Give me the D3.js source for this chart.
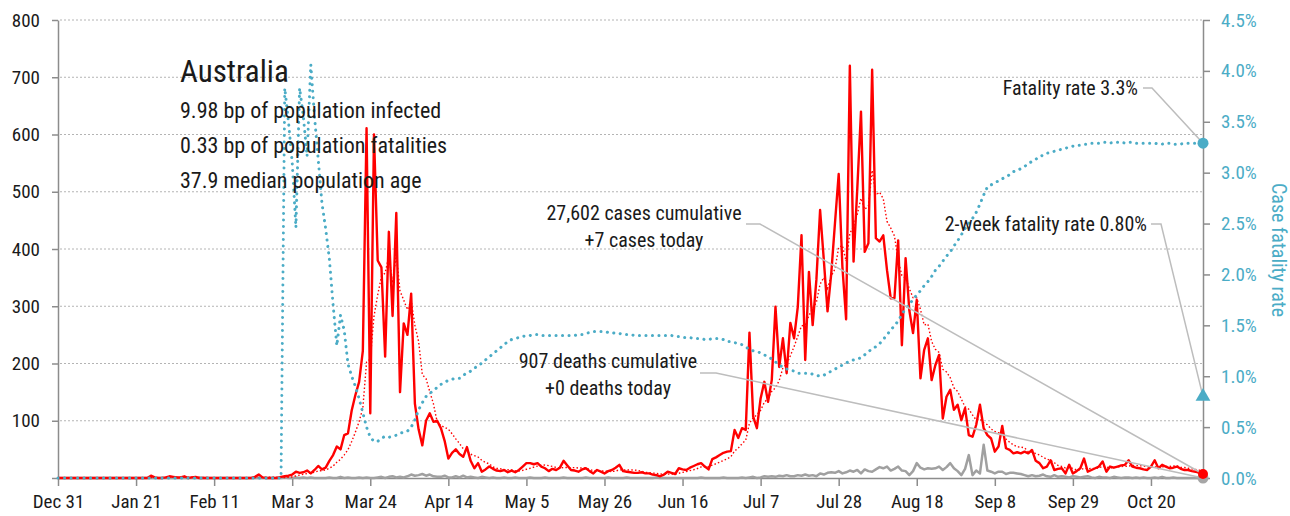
<!DOCTYPE html>
<html>
<head>
<meta charset="utf-8">
<script src="https://cdn.jsdelivr.net/npm/d3@7"></script>
<style>
  body { margin: 0; background: #fff; }
  text { font-family: "Liberation Sans Narrow", "Roboto Condensed", "DejaVu Sans Condensed", Roboto, sans-serif; font-stretch: condensed; }
</style>
</head>
<body>
<svg id="chart" width="1290" height="516"></svg>
<script>
// daily values from Dec 31 2019 to Nov 3 2020
const startDay = Date.UTC(2019, 11, 31);

const cases = [
  0,0,0,0,0,0,0,0,0,0, 0,0,0,0,0,0,0,0,0,0,
  0,0,0,0,0,4,1,0,0,1, 3,2,1,1,3,0,1,2,0,0,
  0,0,0,0,0,0,0,0,0,0, 0,0,0,2,6,1,0,0,0,0,
  2,3,4,6,11,9,10,13,8,14, 21,15,18,30,40,55,50,75,78,118,
  145,168,222,611,113,600,380,368,212,430, 283,463,150,270,250,322,130,85,57,100,
  113,98,100,87,65,34,44,50,42,37, 54,30,17,26,11,15,20,16,13,12,
  14,10,13,10,14,20,26,26,24,26, 20,17,12,16,14,18,30,22,14,13,
  11,15,17,12,8,14,11,8,12,14, 18,23,12,11,10,9,9,10,8,8,
  6,5,3,6,11,9,7,17,15,14, 18,21,24,26,20,15,33,36,40,44,
  46,47,84,70,87,84,254,107,87,139, 168,133,171,299,194,244,183,271,244,299,
  424,206,360,267,346,468,381,291,357,445, 531,369,277,720,378,505,640,395,410,713,
  419,413,424,363,314,314,415,232,384,293, 253,311,174,224,244,171,197,215,104,142,
  154,119,128,101,122,75,72,93,128,87, 75,69,46,55,91,52,49,43,45,43,
  46,43,49,30,26,17,20,31,14,16, 17,8,23,8,12,17,34,11,14,17,
  20,29,11,20,18,20,22,23,31,20, 18,17,15,14,20,31,17,23,20,17,
  18,20,16,14,14,12,11,9,7
];

const deaths = [
  0,0,0,0,0,0,0,0,0,0, 0,0,0,0,0,0,0,0,0,0,
  0,0,0,0,0,0,0,0,0,0, 0,0,0,0,0,0,0,0,0,0,
  0,0,0,0,0,0,0,0,0,0, 0,0,0,0,0,0,0,0,0,0,
  0,1,0,0,1,0,1,0,1,0, 0,0,0,1,0,0,2,0,1,0,
  0,1,0,1,0,0,1,2,0,2, 3,1,2,1,3,6,4,5,7,4,
  6,3,2,2,4,1,1,3,1,4, 1,2,1,0,2,1,0,1,0,0,
  1,0,0,1,0,0,0,1,0,0, 0,1,0,0,0,0,1,0,0,0,
  0,0,1,0,0,0,0,0,1,0, 0,0,0,1,0,0,0,0,0,0,
  0,1,0,0,0,0,0,0,0,0, 0,0,0,1,0,0,0,0,0,1,
  0,0,0,0,1,0,1,2,0,1, 3,2,3,2,4,3,5,3,3,5,
  4,6,4,5,3,8,6,9,10,9, 12,8,10,13,11,14,8,15,12,11,
  15,19,17,20,13,16,20,13,12,5, 12,26,18,15,17,16,17,20,14,19,
  26,17,12,5,16,40,5,13,8,58, 13,11,8,11,11,7,9,9,8,7,
  5,3,5,3,4,6,3,2,5,2, 3,2,1,3,2,1,2,3,1,0,
  2,1,1,0,2,1,0,1,1,0, 1,0,1,0,0,1,0,2,0,0,
  1,0,0,0,0,0,0,0,0
];

// case fatality rate, percent
const fatalityRate = [
  0,0,0,0,0,0,0,0,0,0, 0,0,0,0,0,0,0,0,0,0,
  0,0,0,0,0,0,0,0,0,0, 0,0,0,0,0,0,0,0,0,0,
  0,0,0,0,0,0,0,0,0,0, 0,0,0,0,0,0,0,0,0,0,
  0,3.83,3.5,3.1,2.46,3.83,3.55,3.16,4.06,3.55, 3.13,2.7,2.45,2.15,1.7,1.3,1.6,1.45,1.12,1.0,
  0.9,0.78,0.64,0.5,0.4,0.36,0.36,0.39,0.41,0.40, 0.41,0.42,0.44,0.45,0.46,0.50,0.57,0.67,0.74,0.80,
  0.83,0.86,0.89,0.92,0.94,0.96,0.97,0.98,0.98,1.01, 1.03,1.05,1.08,1.10,1.13,1.16,1.19,1.22,1.25,1.28,
  1.31,1.34,1.36,1.37,1.38,1.39,1.40,1.40,1.41,1.41, 1.40,1.40,1.40,1.40,1.40,1.40,1.40,1.40,1.40,1.40,
  1.41,1.41,1.42,1.43,1.44,1.44,1.44,1.44,1.43,1.43, 1.42,1.42,1.41,1.41,1.41,1.40,1.40,1.40,1.40,1.40,
  1.40,1.40,1.40,1.40,1.40,1.40,1.39,1.39,1.38,1.38, 1.38,1.37,1.37,1.37,1.36,1.36,1.37,1.37,1.37,1.36,
  1.34,1.34,1.33,1.32,1.31,1.29,1.26,1.25,1.24,1.23, 1.21,1.19,1.17,1.14,1.11,1.09,1.07,1.06,1.05,1.03,
  1.03,1.03,1.03,1.02,1.01,1.00,1.01,1.03,1.05,1.07, 1.09,1.11,1.13,1.15,1.16,1.17,1.18,1.21,1.24,1.27,
  1.29,1.32,1.36,1.41,1.45,1.50,1.54,1.61,1.66,1.71, 1.75,1.80,1.84,1.89,1.93,1.98,2.04,2.08,2.13,2.18,
  2.22,2.28,2.33,2.39,2.45,2.50,2.55,2.61,2.69,2.78, 2.86,2.88,2.90,2.92,2.94,2.96,2.98,3.01,3.02,3.04,
  3.06,3.09,3.11,3.13,3.16,3.17,3.19,3.20,3.21,3.22, 3.23,3.24,3.25,3.26,3.27,3.27,3.28,3.28,3.29,3.29,
  3.29,3.30,3.30,3.29,3.30,3.30,3.30,3.29,3.30,3.30, 3.29,3.29,3.29,3.29,3.29,3.29,3.28,3.28,3.29,3.29,
  3.28,3.28,3.28,3.29,3.29,3.29,3.29,3.29,3.29
];

const twoWeekRate = 0.80;

const tickLabels = ["Dec 31", "Jan 21", "Feb 11", "Mar 3", "Mar 24", "Apr 14", "May 5",
  "May 26", "Jun 16", "Jul 7", "Jul 28", "Aug 18", "Sep 8", "Sep 29", "Oct 20"];
const leftTicks = [0, 100, 200, 300, 400, 500, 600, 700, 800];
const rightTicks = [0, 0.5, 1, 1.5, 2, 2.5, 3, 3.5, 4, 4.5];

const infoLines = ["9.98 bp of population infected", "0.33 bp of population fatalities", "37.9 median population age"];

const dayMs = 864e5;
const dates = cases.map((_, i) => new Date(startDay + i * dayMs));
const last = cases.length - 1;

// trailing 7 day average of the daily cases
const weekAvg = cases.map((_, i) => d3.mean(cases.slice(Math.max(0, i - 6), i + 1)));

const svg = d3.select("#chart");
const plotLeft = 58, plotRight = 1203, plotTop = 20, plotBottom = 478;

const x = d3.scaleUtc().domain([dates[0], dates[last]]).range([plotLeft, plotRight]);
const yL = d3.scaleLinear().domain([0, 800]).range([plotBottom, plotTop]);
const yR = d3.scaleLinear().domain([0, 4.5]).range([plotBottom, plotTop]);

const blue = "#4bacc6", red = "#ff0000", grey = "#a0a0a0", axisGrey = "#8c8c8c";

// gridlines
svg.append("g").selectAll("line").data(leftTicks.slice(1)).join("line")
  .attr("x1", plotLeft + 2).attr("x2", plotRight)
  .attr("y1", d => yL(d)).attr("y2", d => yL(d))
  .attr("stroke", "#b4b4b4").attr("stroke-width", 1).attr("stroke-dasharray", "2 2");

function styleAxis(g, color) {
  g.select(".domain").attr("stroke", axisGrey).attr("stroke-width", 1.5);
  g.selectAll(".tick line").attr("stroke", axisGrey).attr("stroke-width", 1.5);
  g.selectAll(".tick text").attr("fill", color).style("font-size", "19px");
}

svg.append("g").attr("transform", `translate(${plotLeft},0)`)
  .call(d3.axisLeft(yL).tickValues(leftTicks).tickFormat(d => d ? d : "").tickSize(6).tickSizeOuter(0).tickPadding(12))
  .call(g => styleAxis(g, "#1a1a1a"));

svg.append("g").attr("transform", `translate(${plotRight},0)`)
  .call(d3.axisRight(yR).tickValues(rightTicks).tickFormat(d => d.toFixed(1) + "%").tickSize(7).tickSizeOuter(0).tickPadding(11))
  .call(g => styleAxis(g, blue));

svg.append("g").attr("transform", `translate(0,${plotBottom})`)
  .call(d3.axisBottom(x)
    .tickValues(tickLabels.map((_, i) => new Date(startDay + i * 21 * dayMs)))
    .tickFormat((d, i) => tickLabels[i]).tickSize(8).tickSizeOuter(0).tickPadding(9))
  .call(g => styleAxis(g, "#1a1a1a"));

svg.append("text")
  .attr("transform", "translate(1272,250) rotate(90)")
  .attr("text-anchor", "middle").attr("fill", blue).style("font-size", "20px")
  .text("Case fatality rate");

// series
const lineL = arr => d3.line().x((d, i) => x(dates[i])).y(d => yL(d))(arr);

svg.append("path").attr("d", lineL(deaths))
  .attr("fill", "none").attr("stroke", grey).attr("stroke-width", 2.5).attr("stroke-linejoin", "round");

svg.append("path").attr("d", lineL(cases))
  .attr("fill", "none").attr("stroke", red).attr("stroke-width", 2.4).attr("stroke-linejoin", "round");

svg.append("path").attr("d", lineL(weekAvg))
  .attr("fill", "none").attr("stroke", red).attr("stroke-width", 1.4).attr("stroke-dasharray", "1.5 2.2");

svg.append("path")
  .attr("d", d3.line().x((d, i) => x(dates[i])).y(d => yR(d))(fatalityRate))
  .attr("fill", "none").attr("stroke", blue).attr("stroke-width", 3)
  .attr("stroke-linecap", "round").attr("stroke-dasharray", "0.1 6.4");

// annotation text
const title = svg.append("g").attr("fill", "#1a1a1a");
title.append("text").attr("x", 180).attr("y", 82).style("font-size", "31px").text("Australia");
title.selectAll("text.info").data(infoLines).join("text").attr("class", "info")
  .attr("x", 180).attr("y", (d, i) => 118 + i * 35).style("font-size", "22px")
  .text(d => d);

const endX = x(dates[last]);
const notes = [
  { lines: ["Fatality rate 3.3%"], tx: 1138, ty: 95, anchor: "end",
    path: [[1143, 88], [1152, 88], [endX, yR(fatalityRate[last])]] },
  { lines: ["27,602 cases cumulative", "+7 cases today"], tx: 644, ty: 220, anchor: "middle",
    path: [[746, 224], [760, 224], [endX, yL(cases[last])]] },
  { lines: ["2-week fatality rate 0.80%"], tx: 1147, ty: 231, anchor: "end",
    path: [[1151, 224], [1161, 224], [endX, yR(twoWeekRate)]] },
  { lines: ["907 deaths cumulative", "+0 deaths today"], tx: 608, ty: 368, anchor: "middle",
    path: [[700, 373], [716, 373], [endX, yL(deaths[last])]] }
];

svg.append("g").selectAll("path").data(notes).join("path")
  .attr("d", d => d3.line()(d.path))
  .attr("fill", "none").attr("stroke", "#bdbdbd").attr("stroke-width", 1.5);

notes.forEach(n => {
  n.lines.forEach((t, i) => {
    svg.append("text").attr("x", n.tx).attr("y", n.ty + i * 27)
      .attr("text-anchor", n.anchor).attr("fill", "#1a1a1a").style("font-size", "20px").text(t);
  });
});

// end markers
svg.append("circle").attr("cx", endX).attr("cy", yL(deaths[last])).attr("r", 5.5).attr("fill", "#a6a6a6");
svg.append("circle").attr("cx", endX).attr("cy", yL(cases[last])).attr("r", 5).attr("fill", red);
svg.append("circle").attr("cx", endX).attr("cy", yR(fatalityRate[last])).attr("r", 5.5).attr("fill", blue);
svg.append("path")
  .attr("transform", `translate(${endX},${yR(twoWeekRate)})`)
  .attr("d", d3.symbol(d3.symbolTriangle, 95)())
  .attr("fill", blue);
</script>
</body>
</html>
